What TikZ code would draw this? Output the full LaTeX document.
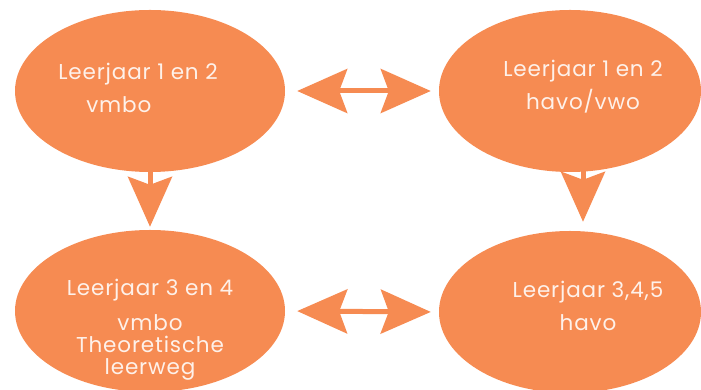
\documentclass[tikz,border=0pt]{standalone}
\usepackage{fontspec}
\setmainfont{Poppins}[LetterSpace=4]
\usetikzlibrary{shapes.geometric,arrows.meta}
\definecolor{oranje}{HTML}{F68B52}
\tikzset{
  bol/.style={ellipse, fill=oranje, minimum width=270pt, minimum height=162pt, inner sep=0pt},
  tekst/.style={text=white!88!oranje, font=\fontsize{21.5}{33}\selectfont, align=center, inner sep=0pt},
  pijl/.style={line width=5pt, draw=oranje, -{Stealth[length=50pt, width=44pt, inset=8pt]}},
  dubbelpijl/.style={pijl, {Stealth[length=50pt, width=44pt, inset=8pt]}-{Stealth[length=50pt, width=44pt, inset=8pt]}}
}
\begin{document}
\begin{tikzpicture}[x=1pt,y=1pt]
\useasboundingbox (0,0) rectangle (701,390);
\node[bol] (e1) at (150,299) {};
\node[bol, minimum width=262pt] (e2) at (570,299) {};
\node[bol] (e3) at (150,79) {};
\node[bol, minimum width=262pt] (e4) at (570,78) {};
\node[tekst, align=left] (t1) at ([xshift=-12,yshift=3]e1.center) {Leerjaar 1 en 2\\\hspace*{28pt}vmbo};
\node[tekst] (t2) at ([xshift=13,yshift=4]e2.center) {Leerjaar 1 en 2\\havo/vwo};
\node[tekst, font=\fontsize{21.5}{22}\selectfont] (t3) at ([yshift=-19]e3.center) {Leerjaar 3 en 4\\[13pt]vmbo\\Theoretische\\leerweg};
\node[tekst] (t4) at ([xshift=18,yshift=6]e4.center) {Leerjaar 3,4,5\\havo};
% pijlen
\draw[dubbelpijl, shorten <=12pt, shorten >=8pt] (e1.east) -- (e2.west);
\draw[dubbelpijl, shorten <=12pt, shorten >=8pt] (e3.east) -- (e4.west);
\draw[pijl, shorten >=3pt] ([yshift=6]e1.south) -- (e3.north);
\draw[pijl, shorten >=9pt] ([xshift=13,yshift=6]e2.south) -- ([xshift=13]e4.north);
\end{tikzpicture}
\end{document}
